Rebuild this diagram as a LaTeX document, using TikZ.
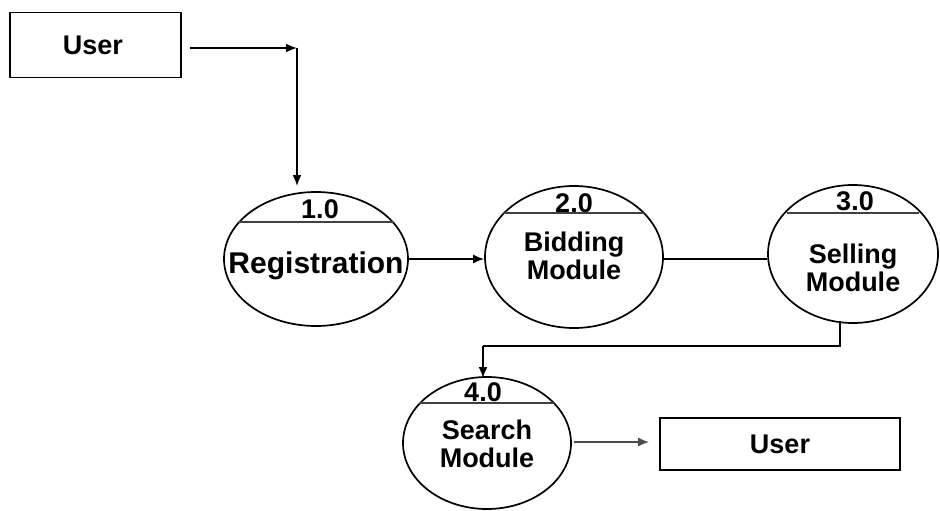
\documentclass[tikz,border=0pt]{standalone}
\usepackage{fontspec}
\setmainfont{Liberation Sans}
\usetikzlibrary{shapes.geometric,arrows.meta,calc}
\begin{document}
\begin{tikzpicture}[x=1pt,y=-1pt,
  lbl/.style={font=\fontsize{27}{28}\selectfont\bfseries, align=center, inner sep=0pt},
  big/.style={font=\fontsize{30}{32}\selectfont\bfseries},
  proc/.style={ellipse, draw, line width=1.7pt, inner sep=0pt},
  ent/.style={draw, line width=1.6pt, inner sep=0pt},
  flow/.style={line width=1.7pt},
  arr/.style={flow, -{Latex[length=11pt,width=9pt]}},
  chord/.style={line width=1.4pt, draw=black!75}]
\useasboundingbox (0,0) rectangle (940,511);
% entities
\node[ent, minimum width=171pt, minimum height=65pt] (u1) at (95.5,45) {};
\node[lbl] (u1t) at (93,45) {User};
\node[ent, minimum width=240pt, minimum height=52pt] (u2) at (780,444) {};
\node[lbl] (u2t) at (780,444) {User};
% processes
\node[proc, minimum width=184pt, minimum height=134pt] (e1) at (316,259) {};
\node[proc, minimum width=178pt, minimum height=142pt] (e2) at (574,257) {};
\node[proc, minimum width=170pt, minimum height=138pt] (e3) at (853,254) {};
\node[proc, minimum width=168pt, minimum height=132pt] (e4) at (487,443) {};
% chords
\draw[chord] ($(e1.center)+(-76.7,-37)$) -- ($(e1.center)+(76.7,-37)$);
\draw[chord] ($(e2.center)+(-70.8,-44)$) -- ($(e2.center)+(70.8,-44)$);
\draw[chord] ($(e3.center)+(-66,-41)$) -- ($(e3.center)+(66,-41)$);
\draw[chord] ($(e4.center)+(-66.9,-40)$) -- ($(e4.center)+(66.9,-40)$);
% texts
\node[lbl] (n1) at (320,209) {1.0};
\node[lbl, big] (t1) at (316,266) {Registration};
\node[lbl] (n2) at (574,203) {2.0};
\node[lbl] (t2) at (574,256) {Bidding\\Module};
\node[lbl] (n3) at (855,201) {3.0};
\node[lbl] (t3) at (853,268) {Selling\\Module};
\node[lbl] (n4) at (483,392) {4.0};
\node[lbl] (t4) at (487,444) {Search\\Module};
% flows
\coordinate (c1) at (297,48);
\coordinate (c2) at (840,346);
\coordinate (c3) at (483,346);
\draw[arr] ($(u1.east)+(8,3)$) -- (c1);
\draw[arr] (c1) -- (297,186);
\draw[arr] (e1.east) -- (e2.west |- e1.east);
\draw[flow] (e2.east |- e1.east) -- (e3.west |- e1.east);
\draw[flow] (840,321) -- (c2) -- (c3);
\draw[arr] (c3) -- (483,378);
\draw[arr, draw=black!70] ($(e4.east)+(2,-1)$) -- ($(u2.west)+(-10,-2)$);
\end{tikzpicture}
\end{document}
